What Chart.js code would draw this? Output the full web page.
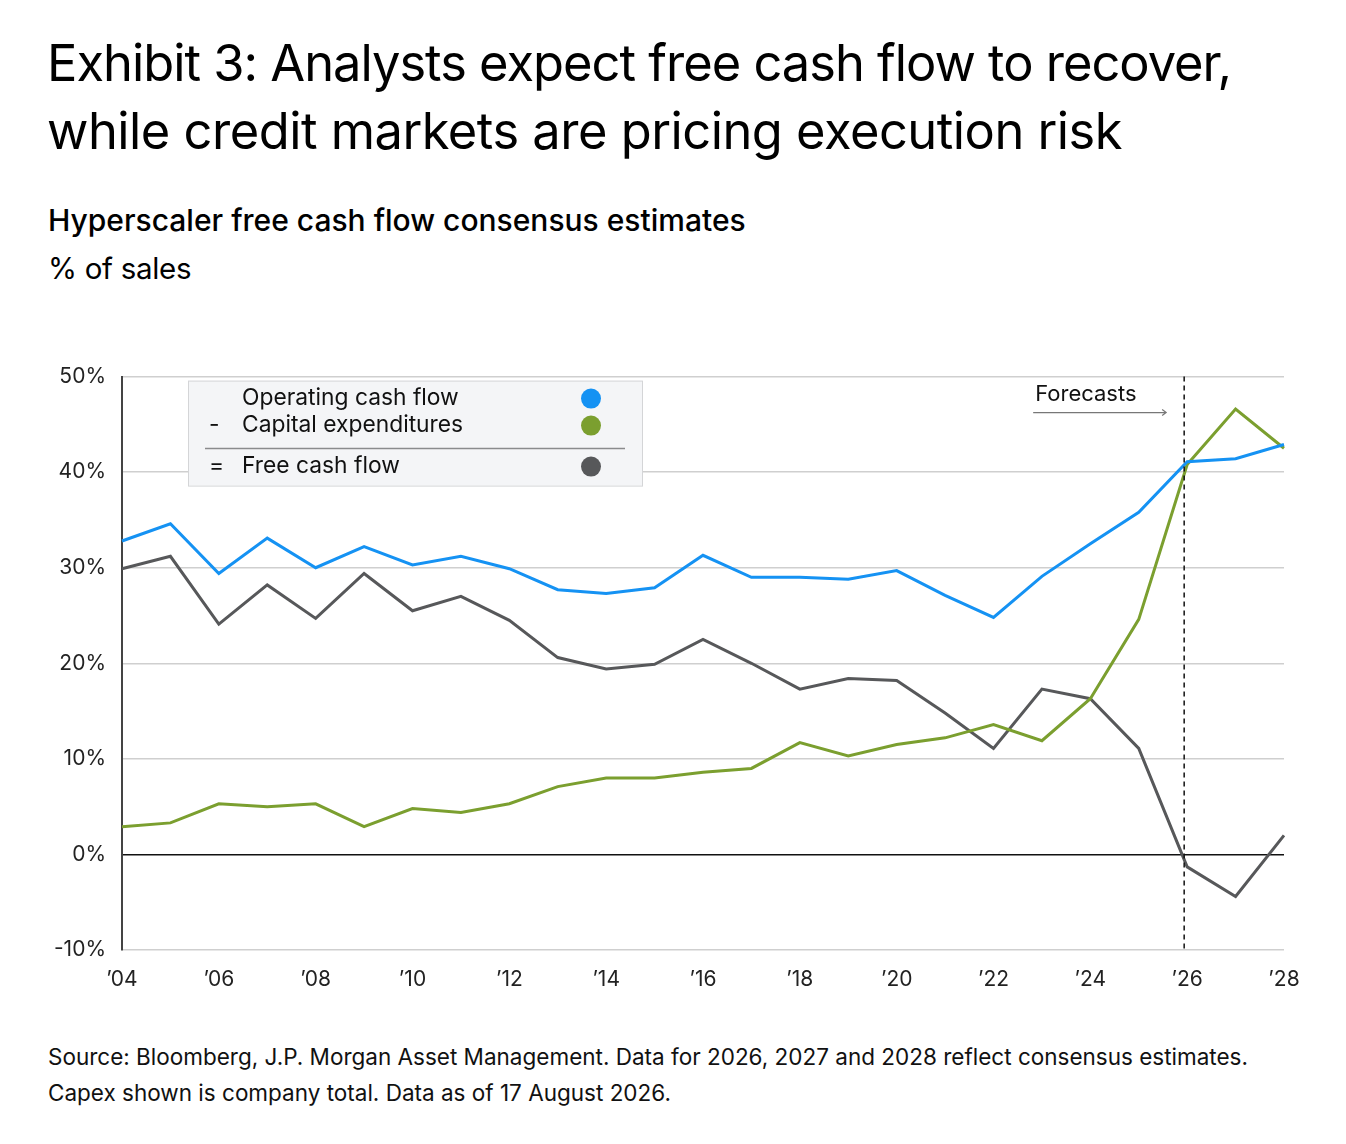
<!DOCTYPE html>
<html>
<head>
<meta charset="utf-8">
<script src="https://cdn.jsdelivr.net/npm/chart.js@4"></script>
<style>
  html, body { margin: 0; padding: 0; background: #fff; }
  body { width: 1346px; height: 1144px; position: relative; font-family: Inter, "Noto Sans", sans-serif; color: #000; overflow: hidden; }
  .title { position: absolute; left: 47px; top: 29px; font-size: 50.6px; line-height: 68px; letter-spacing: -1px; font-weight: 400; }
  .title .l2 { letter-spacing: -0.5px; }
  .subtitle { position: absolute; left: 48px; top: 202px; font-size: 30px; font-weight: 500; }
  .unit { position: absolute; left: 48px; top: 250px; font-size: 29.5px; letter-spacing: -0.3px; }
  .source { position: absolute; left: 48px; top: 1039px; font-size: 22.5px; line-height: 36px; color: #111; }
  #wrap { position: absolute; left: 0; top: 348px; width: 1346px; height: 667px; }
</style>
</head>
<body>
<div class="title">Exhibit 3: Analysts expect free cash flow to recover,<br><span class="l2">while credit markets are pricing execution risk</span></div>
<div class="subtitle">Hyperscaler free cash flow consensus estimates</div>
<div class="unit">% of sales</div>
<div id="wrap"><canvas id="cashChart"></canvas></div>
<div class="source">Source: Bloomberg, J.P. Morgan Asset Management. Data for 2026, 2027 and 2028 reflect consensus estimates.<br>Capex shown is company total. Data as of 17 August 2026.</div>

<script>
// years 2004 - 2028
const years = ['2004','2005','2006','2007','2008','2009','2010','2011','2012','2013','2014','2015','2016',
               '2017','2018','2019','2020','2021','2022','2023','2024','2025','2026','2027','2028'];

// % of sales
const operatingCashFlow = [32.8, 34.6, 29.4, 33.1, 30.0, 32.2, 30.3, 31.2, 29.9, 27.7, 27.3, 27.9, 31.3,
                           29.0, 29.0, 28.8, 29.7, 27.1, 24.8, 29.1, 32.5, 35.8, 41.1, 41.4, 42.9];
const capitalExpenditures = [2.9, 3.3, 5.3, 5.0, 5.3, 2.9, 4.8, 4.4, 5.3, 7.1, 8.0, 8.0, 8.6,
                             9.0, 11.7, 10.3, 11.5, 12.2, 13.6, 11.9, 16.3, 24.6, 40.8, 46.6, 42.5];
const freeCashFlow = [29.9, 31.2, 24.1, 28.2, 24.7, 29.4, 25.5, 27.0, 24.5, 20.6, 19.4, 19.9, 22.5,
                      20.0, 17.3, 18.4, 18.2, 14.8, 11.1, 17.3, 16.3, 11.1, -1.3, -4.4, 2.0];

const forecastStart = '2026';
const yTicks = [-10, 0, 10, 20, 30, 40, 50];

const seriesInfo = [
    { label: 'Operating cash flow', sign: '', data: operatingCashFlow, color: '#1592F3' },
    { label: 'Capital expenditures', sign: '-', data: capitalExpenditures, color: '#7B9F2F' },
    { label: 'Free cash flow', sign: '=', data: freeCashFlow, color: '#57585A' },
];

const FONT = 'Inter, "Noto Sans", sans-serif';

// legend box + forecast marker
const overlayPlugin = {
    id: 'overlay',
    afterDraw(chart) {
        const { ctx, chartArea, scales } = chart;
        ctx.save();

        // forecast dashed line
        const fx = scales.x.getPixelForValue(years.indexOf(forecastStart)) - 3;
        ctx.strokeStyle = '#111';
        ctx.lineWidth = 1.5;
        ctx.setLineDash([5, 4]);
        ctx.beginPath();
        ctx.moveTo(fx, chartArea.top);
        ctx.lineTo(fx, chartArea.bottom);
        ctx.stroke();
        ctx.setLineDash([]);

        ctx.font = '22px ' + FONT;
        ctx.fillStyle = '#111';
        ctx.textBaseline = 'middle';
        ctx.textAlign = 'left';
        ctx.fillText('Forecasts', fx - 149, chartArea.top + 18);
        // arrow
        ctx.strokeStyle = '#777';
        ctx.lineWidth = 1.2;
        ctx.beginPath();
        ctx.moveTo(fx - 151, chartArea.top + 36);
        ctx.lineTo(fx - 18, chartArea.top + 36);
        ctx.moveTo(fx - 22, chartArea.top + 33);
        ctx.lineTo(fx - 18, chartArea.top + 36);
        ctx.lineTo(fx - 22, chartArea.top + 39);
        ctx.stroke();

        // legend box
        const bx = chartArea.left + 66, by = chartArea.top + 4, bw = 454, bh = 105;
        ctx.fillStyle = '#F4F5F7';
        ctx.fillRect(bx, by, bw, bh);
        ctx.strokeStyle = '#D4D5D7';
        ctx.lineWidth = 1;
        ctx.strokeRect(bx + 0.5, by + 0.5, bw, bh);

        ctx.strokeStyle = '#8A8B8D';
        ctx.lineWidth = 1.5;
        ctx.beginPath();
        ctx.moveTo(bx + 17, by + 68);
        ctx.lineTo(bx + 437, by + 68);
        ctx.stroke();

        const rows = [by + 18, by + 45, by + 86];
        ctx.font = '22.8px ' + FONT;
        seriesInfo.forEach((s, i) => {
            ctx.fillStyle = '#111';
            ctx.textAlign = 'left';
            ctx.fillText(s.label, bx + 54, rows[i]);
            if (s.sign) ctx.fillText(s.sign, bx + 21, rows[i]);
            ctx.fillStyle = s.color;
            ctx.beginPath();
            ctx.arc(bx + 403, rows[i], 10, 0, Math.PI * 2);
            ctx.fill();
        });
        ctx.restore();
    }
};

new Chart(document.getElementById('cashChart').getContext('2d'), {
    type: 'line',
    data: {
        labels: years,
        datasets: seriesInfo.map(s => ({
            label: s.label,
            data: s.data,
            borderColor: s.color,
            backgroundColor: s.color,
            borderWidth: 3,
            pointRadius: 0,
            tension: 0,
        }))
    },
    options: {
        responsive: true,
        maintainAspectRatio: false,
        animation: false,
        layout: { padding: { left: 0, right: 62, top: 13, bottom: 0 } },
        plugins: {
            legend: { display: false },
            tooltip: { enabled: false },
        },
        scales: {
            x: {
                offset: false,
                grid: { display: false },
                border: { display: false },
                afterFit(scale) { scale.height = 65; },
                ticks: {
                    autoSkip: false,
                    maxRotation: 0,
                    padding: 9,
                    color: '#222',
                    font: { family: FONT, size: 21 },
                    callback(value, index) {
                        const y = years[index];
                        return (Number(y) % 2 === 0) ? '\u2019' + y.slice(2) : '';
                    }
                }
            },
            y: {
                min: -10,
                max: 50,
                afterFit(scale) { scale.width = 122; },
                afterBuildTicks(scale) { scale.ticks = yTicks.map(v => ({ value: v })); },
                border: { display: true, color: '#444', width: 2 },
                grid: {
                    drawTicks: false,
                    color: ctx => ctx.tick.value === 0 ? '#111' : '#CFCFCF',
                    lineWidth: 1.5,
                },
                ticks: {
                    padding: 16,
                    color: '#222',
                    font: { family: FONT, size: 21 },
                    callback: v => v + '%'
                }
            }
        }
    },
    plugins: [overlayPlugin]
});
</script>
</body>
</html>
